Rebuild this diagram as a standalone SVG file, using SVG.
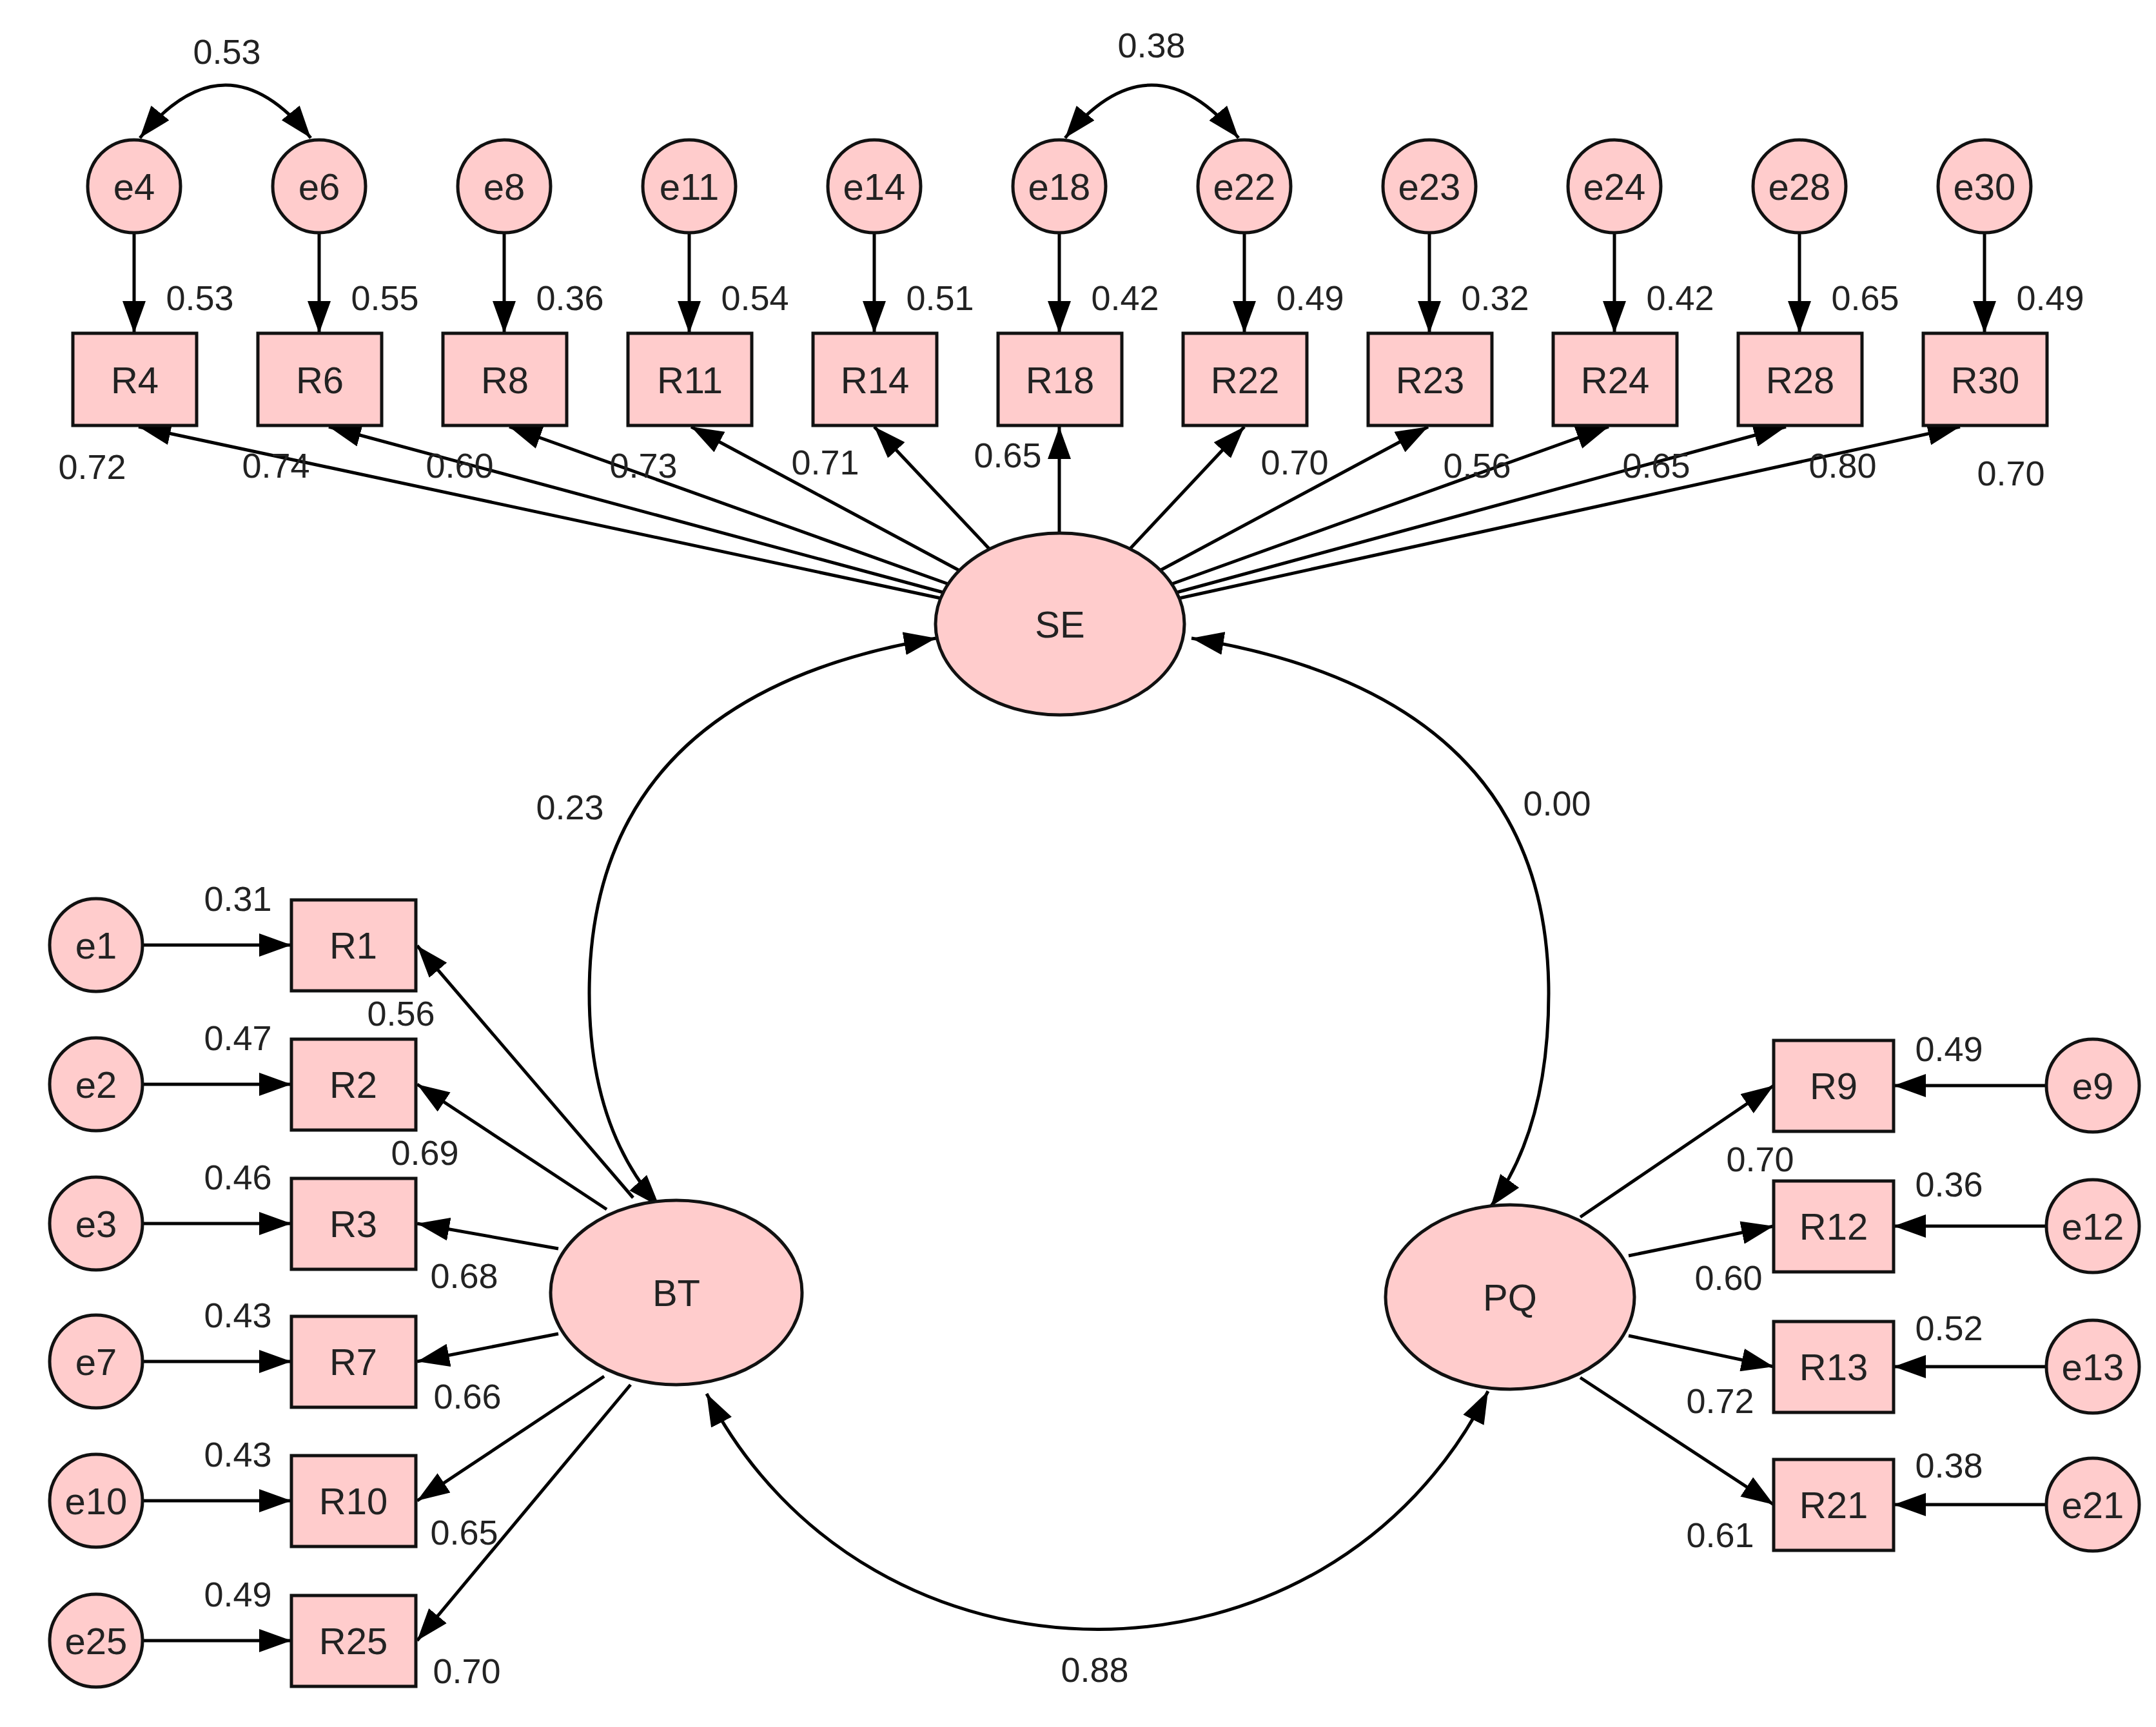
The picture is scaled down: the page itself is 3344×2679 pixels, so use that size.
<svg xmlns="http://www.w3.org/2000/svg" width="3344" height="2679" viewBox="0 0 3344 2679">
<defs>
<marker id="ah" viewBox="0 0 50 36" refX="50" refY="18" markerWidth="50" markerHeight="36" markerUnits="userSpaceOnUse" orient="auto-start-reverse"><path d="M0,0 L50,18 L0,36 z" fill="#000"/></marker>
</defs>
<style>
.n{fill:#FFCCCC;stroke:#111;stroke-width:5}
.c line,.c path{stroke:#000;stroke-width:5;fill:none;marker-end:url(#ah)}
.c path.b{marker-start:url(#ah)}
text{font-family:"Liberation Sans",Arial,sans-serif;fill:#222}
.t{font-size:58px;text-anchor:middle;dominant-baseline:central}
.v{font-size:54px;text-anchor:middle;dominant-baseline:central}
</style>
<rect width="3344" height="2679" fill="#fff"/>
<g class="c" id="connectors">
<line x1="208" y1="361" x2="208" y2="517"/><line x1="495" y1="361" x2="495" y2="517"/><line x1="782" y1="361" x2="782" y2="517"/><line x1="1069" y1="361" x2="1069" y2="517"/><line x1="1356" y1="361" x2="1356" y2="517"/><line x1="1643" y1="361" x2="1643" y2="517"/><line x1="1930" y1="361" x2="1930" y2="517"/><line x1="2217" y1="361" x2="2217" y2="517"/><line x1="2504" y1="361" x2="2504" y2="517"/><line x1="2791" y1="361" x2="2791" y2="517"/><line x1="3078" y1="361" x2="3078" y2="517"/>
<path class="b" d="M217,214 Q350,50 482,214"/>
<path class="b" d="M1652,214 Q1786,50 1921,214"/>
<line x1="1459" y1="928" x2="215" y2="662"/>
<line x1="1463" y1="919" x2="510" y2="662"/>
<line x1="1471" y1="906" x2="790" y2="662"/>
<line x1="1488" y1="885" x2="1072" y2="662"/>
<line x1="1535" y1="852" x2="1356" y2="662"/>
<line x1="1643" y1="827" x2="1643" y2="662"/>
<line x1="1752" y1="852" x2="1930" y2="662"/>
<line x1="1799" y1="885" x2="2215" y2="662"/>
<line x1="1817" y1="906" x2="2495" y2="662"/>
<line x1="1825" y1="919" x2="2770" y2="662"/>
<line x1="1829" y1="928" x2="3040" y2="662"/>
<path class="b" d="M1452,990 Q914,1080 914,1541 Q914,1750 1023,1872"/>
<path class="b" d="M1848,990 Q2402,1080 2402,1541 Q2402,1750 2312,1872"/>
<path class="b" d="M1096,2162 C1350,2650 2060,2650 2308,2158"/>
<line x1="221" y1="1466" x2="452" y2="1466"/><line x1="221" y1="1682" x2="452" y2="1682"/><line x1="221" y1="1898" x2="452" y2="1898"/><line x1="221" y1="2112" x2="452" y2="2112"/><line x1="221" y1="2328" x2="452" y2="2328"/><line x1="221" y1="2545" x2="452" y2="2545"/>
<line x1="982" y1="1858" x2="647" y2="1467"/>
<line x1="941" y1="1876" x2="647" y2="1682"/>
<line x1="866" y1="1937" x2="647" y2="1898"/>
<line x1="866" y1="2069" x2="647" y2="2112"/>
<line x1="937" y1="2135" x2="647" y2="2328"/>
<line x1="978" y1="2148" x2="647" y2="2545"/>
<line x1="2451" y1="1888" x2="2751" y2="1684"/>
<line x1="2526" y1="1948" x2="2751" y2="1902"/>
<line x1="2526" y1="2072" x2="2751" y2="2120"/>
<line x1="2451" y1="2137" x2="2751" y2="2334"/>
<line x1="3174" y1="1684" x2="2937" y2="1684"/><line x1="3174" y1="1902" x2="2937" y2="1902"/><line x1="3174" y1="2120" x2="2937" y2="2120"/><line x1="3174" y1="2334" x2="2937" y2="2334"/>
</g>
<g id="SE"><ellipse class="n" cx="1644" cy="968" rx="193" ry="141"/><text class="t" x="1644" y="968">SE</text></g>
<g id="BT"><ellipse class="n" cx="1049" cy="2005" rx="195" ry="143"/><text class="t" x="1049" y="2005">BT</text></g>
<g id="PQ"><ellipse class="n" cx="2342" cy="2012" rx="193" ry="143"/><text class="t" x="2342" y="2012">PQ</text></g>
<g id="e4"><circle class="n" cx="208" cy="289" r="72"/><text class="t" x="208" y="289">e4</text></g>
<g id="e6"><circle class="n" cx="495" cy="289" r="72"/><text class="t" x="495" y="289">e6</text></g>
<g id="e8"><circle class="n" cx="782" cy="289" r="72"/><text class="t" x="782" y="289">e8</text></g>
<g id="e11"><circle class="n" cx="1069" cy="289" r="72"/><text class="t" x="1069" y="289">e11</text></g>
<g id="e14"><circle class="n" cx="1356" cy="289" r="72"/><text class="t" x="1356" y="289">e14</text></g>
<g id="e18"><circle class="n" cx="1643" cy="289" r="72"/><text class="t" x="1643" y="289">e18</text></g>
<g id="e22"><circle class="n" cx="1930" cy="289" r="72"/><text class="t" x="1930" y="289">e22</text></g>
<g id="e23"><circle class="n" cx="2217" cy="289" r="72"/><text class="t" x="2217" y="289">e23</text></g>
<g id="e24"><circle class="n" cx="2504" cy="289" r="72"/><text class="t" x="2504" y="289">e24</text></g>
<g id="e28"><circle class="n" cx="2791" cy="289" r="72"/><text class="t" x="2791" y="289">e28</text></g>
<g id="e30"><circle class="n" cx="3078" cy="289" r="72"/><text class="t" x="3078" y="289">e30</text></g>
<g id="R4"><rect class="n" x="113" y="517" width="192" height="143"/><text class="t" x="209" y="589">R4</text></g>
<g id="R6"><rect class="n" x="400" y="517" width="192" height="143"/><text class="t" x="496" y="589">R6</text></g>
<g id="R8"><rect class="n" x="687" y="517" width="192" height="143"/><text class="t" x="783" y="589">R8</text></g>
<g id="R11"><rect class="n" x="974" y="517" width="192" height="143"/><text class="t" x="1070" y="589">R11</text></g>
<g id="R14"><rect class="n" x="1261" y="517" width="192" height="143"/><text class="t" x="1357" y="589">R14</text></g>
<g id="R18"><rect class="n" x="1548" y="517" width="192" height="143"/><text class="t" x="1644" y="589">R18</text></g>
<g id="R22"><rect class="n" x="1835" y="517" width="192" height="143"/><text class="t" x="1931" y="589">R22</text></g>
<g id="R23"><rect class="n" x="2122" y="517" width="192" height="143"/><text class="t" x="2218" y="589">R23</text></g>
<g id="R24"><rect class="n" x="2409" y="517" width="192" height="143"/><text class="t" x="2505" y="589">R24</text></g>
<g id="R28"><rect class="n" x="2696" y="517" width="192" height="143"/><text class="t" x="2792" y="589">R28</text></g>
<g id="R30"><rect class="n" x="2983" y="517" width="192" height="143"/><text class="t" x="3079" y="589">R30</text></g>
<g id="e1"><circle class="n" cx="149" cy="1466" r="72"/><text class="t" x="149" y="1466">e1</text></g>
<g id="e2"><circle class="n" cx="149" cy="1682" r="72"/><text class="t" x="149" y="1682">e2</text></g>
<g id="e3"><circle class="n" cx="149" cy="1898" r="72"/><text class="t" x="149" y="1898">e3</text></g>
<g id="e7"><circle class="n" cx="149" cy="2112" r="72"/><text class="t" x="149" y="2112">e7</text></g>
<g id="e10"><circle class="n" cx="149" cy="2328" r="72"/><text class="t" x="149" y="2328">e10</text></g>
<g id="e25"><circle class="n" cx="149" cy="2545" r="72"/><text class="t" x="149" y="2545">e25</text></g>
<g id="R1"><rect class="n" x="452" y="1396" width="193" height="141"/><text class="t" x="548" y="1466">R1</text></g>
<g id="R2"><rect class="n" x="452" y="1612" width="193" height="141"/><text class="t" x="548" y="1682">R2</text></g>
<g id="R3"><rect class="n" x="452" y="1828" width="193" height="141"/><text class="t" x="548" y="1898">R3</text></g>
<g id="R7"><rect class="n" x="452" y="2042" width="193" height="141"/><text class="t" x="548" y="2112">R7</text></g>
<g id="R10"><rect class="n" x="452" y="2258" width="193" height="141"/><text class="t" x="548" y="2328">R10</text></g>
<g id="R25"><rect class="n" x="452" y="2475" width="193" height="141"/><text class="t" x="548" y="2545">R25</text></g>
<g id="R9"><rect class="n" x="2751" y="1614" width="186" height="141"/><text class="t" x="2844" y="1684">R9</text></g>
<g id="R12"><rect class="n" x="2751" y="1832" width="186" height="141"/><text class="t" x="2844" y="1902">R12</text></g>
<g id="R13"><rect class="n" x="2751" y="2050" width="186" height="141"/><text class="t" x="2844" y="2120">R13</text></g>
<g id="R21"><rect class="n" x="2751" y="2264" width="186" height="141"/><text class="t" x="2844" y="2334">R21</text></g>
<g id="e9"><circle class="n" cx="3246" cy="1684" r="72"/><text class="t" x="3246" y="1684">e9</text></g>
<g id="e12"><circle class="n" cx="3246" cy="1902" r="72"/><text class="t" x="3246" y="1902">e12</text></g>
<g id="e13"><circle class="n" cx="3246" cy="2120" r="72"/><text class="t" x="3246" y="2120">e13</text></g>
<g id="e21"><circle class="n" cx="3246" cy="2334" r="72"/><text class="t" x="3246" y="2334">e21</text></g>
<g id="labels">
<text class="v" x="352" y="80">0.53</text><text class="v" x="1786" y="70">0.38</text>
<text class="v" x="310" y="462">0.53</text><text class="v" x="597" y="462">0.55</text><text class="v" x="884" y="462">0.36</text><text class="v" x="1171" y="462">0.54</text><text class="v" x="1458" y="462">0.51</text><text class="v" x="1745" y="462">0.42</text><text class="v" x="2032" y="462">0.49</text><text class="v" x="2319" y="462">0.32</text><text class="v" x="2606" y="462">0.42</text><text class="v" x="2893" y="462">0.65</text><text class="v" x="3180" y="462">0.49</text>
<text class="v" x="143" y="724">0.72</text><text class="v" x="428" y="722">0.74</text><text class="v" x="713" y="722">0.60</text><text class="v" x="998" y="722">0.73</text><text class="v" x="1280" y="717">0.71</text><text class="v" x="1563" y="706">0.65</text><text class="v" x="2008" y="717">0.70</text><text class="v" x="2291" y="722">0.56</text><text class="v" x="2569" y="722">0.65</text><text class="v" x="2858" y="722">0.80</text><text class="v" x="3119" y="734">0.70</text>
<text class="v" x="884" y="1252">0.23</text><text class="v" x="2415" y="1246">0.00</text><text class="v" x="1698" y="2590">0.88</text>
<text class="v" x="369" y="1394">0.31</text><text class="v" x="369" y="1610">0.47</text><text class="v" x="369" y="1826">0.46</text><text class="v" x="369" y="2040">0.43</text><text class="v" x="369" y="2256">0.43</text><text class="v" x="369" y="2473">0.49</text>
<text class="v" x="622" y="1572">0.56</text><text class="v" x="659" y="1788">0.69</text><text class="v" x="720" y="1979">0.68</text><text class="v" x="725" y="2166">0.66</text><text class="v" x="720" y="2377">0.65</text><text class="v" x="724" y="2592">0.70</text>
<text class="v" x="3023" y="1627">0.49</text><text class="v" x="3023" y="1837">0.36</text><text class="v" x="3023" y="2060">0.52</text><text class="v" x="3023" y="2273">0.38</text>
<text class="v" x="2730" y="1798">0.70</text><text class="v" x="2681" y="1982">0.60</text><text class="v" x="2668" y="2173">0.72</text><text class="v" x="2668" y="2381">0.61</text>
</g>
</svg>
